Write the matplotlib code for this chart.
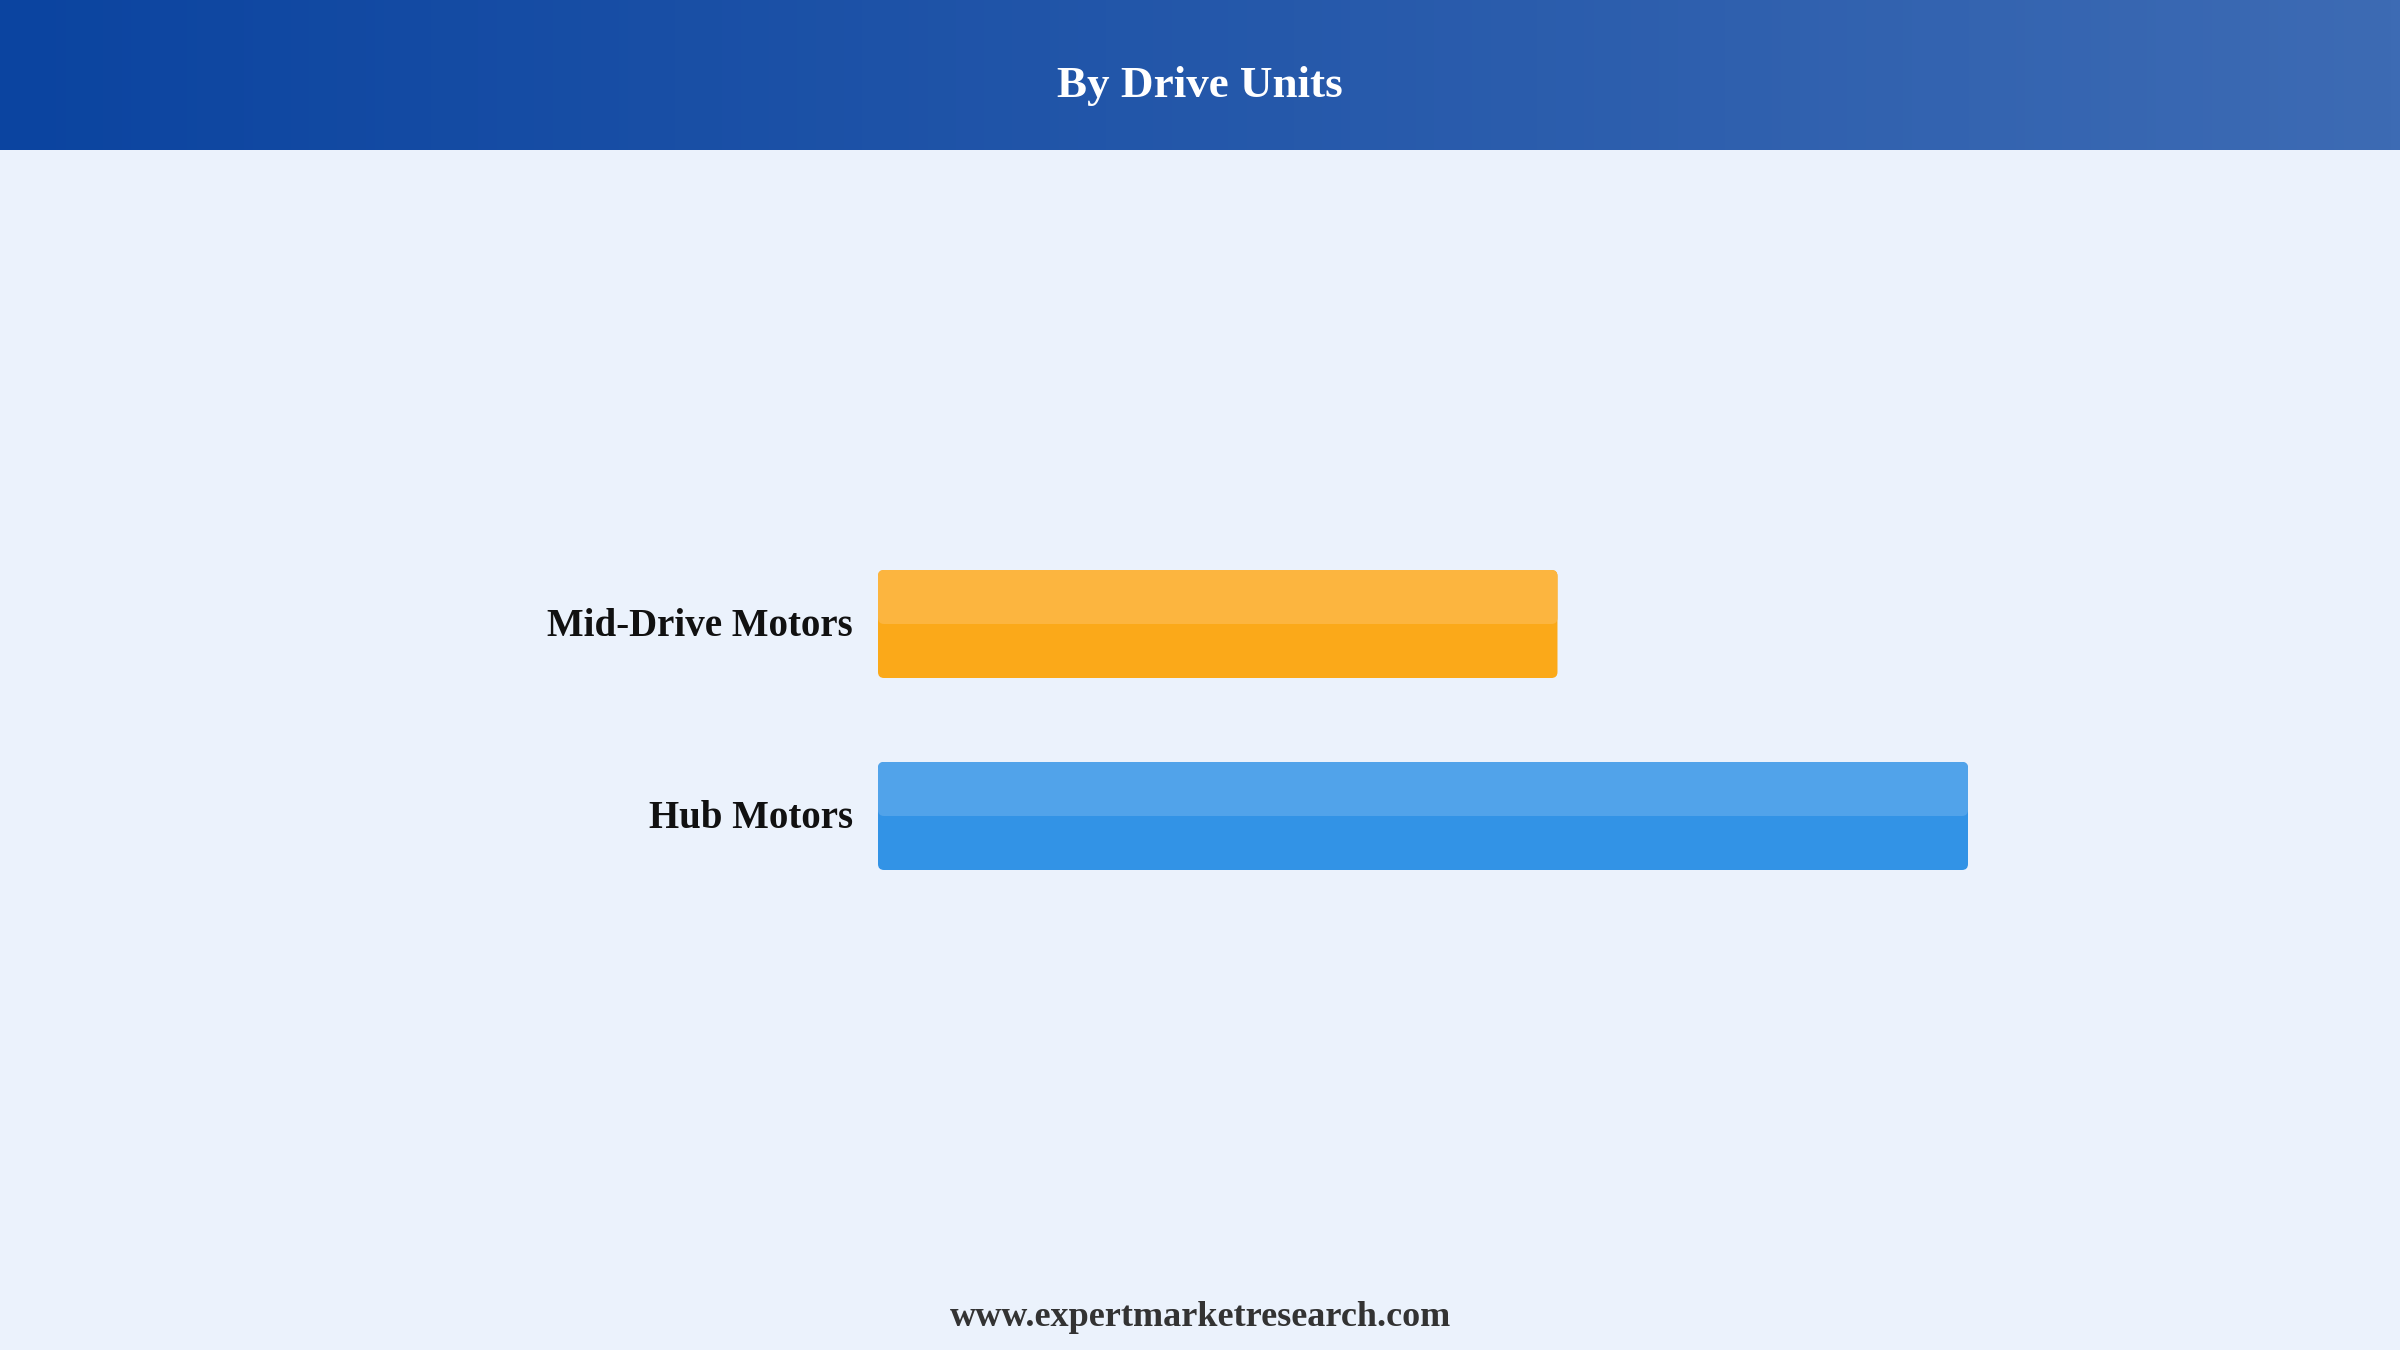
import matplotlib
matplotlib.use('Agg')
import matplotlib.pyplot as plt
import numpy as np
from matplotlib.patches import FancyBboxPatch
from matplotlib.colors import LinearSegmentedColormap

# data
categories = ["Hub Motors", "Mid-Drive Motors"]
shares = [61.6, 38.4]
base_colors = ["#3293e6", "#fba919"]
top_colors = ["#51a3ea", "#fcb53f"]

title = "By Drive Units"
footer = "www.expertmarketresearch.com"

W, H = 2400, 1350
fig = plt.figure(figsize=(24, 13.5), dpi=100)
fig.patch.set_facecolor("#ebf2fc")
serif = ["Liberation Serif", "DejaVu Serif"]

# header band with horizontal gradient
hdr = fig.add_axes([0, 1 - 150 / H, 1, 150 / H])
grad = LinearSegmentedColormap.from_list("hdr", ["#0b44a0", "#3d6bb4"])
hdr.imshow(np.linspace(0, 1, 256)[None, :], cmap=grad, aspect="auto",
           extent=[0, 1, 0, 1])
hdr.set_axis_off()
hdr.text(0.5, 0.43, title, color="white", fontsize=32.5, fontweight="bold",
         family=serif, ha="center", va="center")

# bar area: 878..1968 px wide, 528..912 px tall
left, right = 878, 1968
top, bot = 528, 912
ax = fig.add_axes([left / W, 1 - bot / H, (right - left) / W, (bot - top) / H])
ax.set_facecolor("none")
ax.set_xlim(0, max(shares))
ax.set_ylim(-0.5, 1.5)
ax.set_axis_off()

bh = 0.5625
ypos = np.arange(len(categories))
bars = ax.barh(ypos, shares, height=bh, color="none")

# data units per pixel, to keep the rounded corners round
xpp = max(shares) / (right - left)
ypp = 2.0 / (bot - top)
r = 6 * xpp
for b, c0, c1, lab in zip(bars, base_colors, top_colors, categories):
    x, y, w, h = b.get_x(), b.get_y(), b.get_width(), b.get_height()
    ax.add_patch(FancyBboxPatch((x, y), w, h,
                                boxstyle=f"round,pad=0,rounding_size={r}",
                                mutation_aspect=ypp / xpp, fc=c0, ec="none"))
    ax.add_patch(FancyBboxPatch((x, y + h / 2), w, h / 2,
                                boxstyle=f"round,pad=0,rounding_size={r}",
                                mutation_aspect=ypp / xpp, fc=c1, ec="none"))
    ax.text(-25 * xpp, y + h / 2 - 3 * ypp, lab, ha="right", va="center",
            fontsize=28, fontweight="bold", family=serif, color="#111111")

fig.text(0.5, 1 - 1317 / H, footer, ha="center", va="center", fontsize=26,
         fontweight="bold", family=serif, color="#333333")

fig.savefig("out.png", dpi=100, facecolor=fig.get_facecolor())
